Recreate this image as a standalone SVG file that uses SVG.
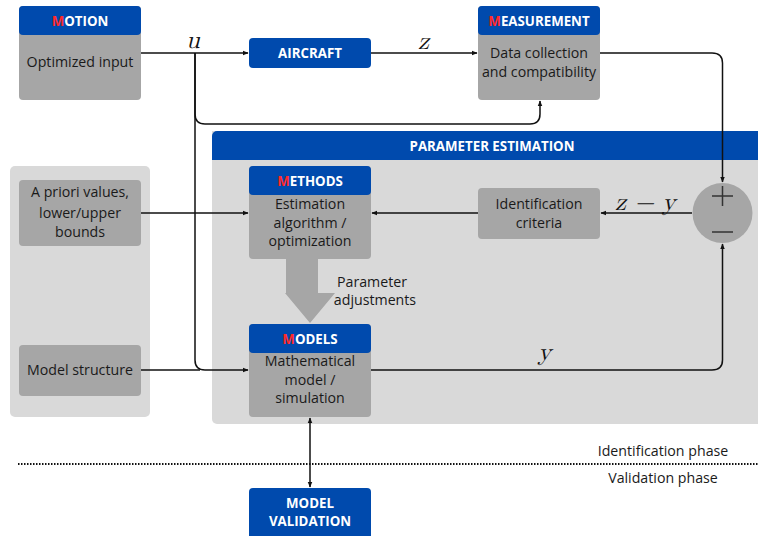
<svg xmlns="http://www.w3.org/2000/svg" width="758" height="536" viewBox="0 0 758 536">
<style>
.hdr{fill:#004aad}
.body{fill:#a6a6a6}
.panel{fill:#d9d9d9}
.ht{font-family:"Open Sans","Liberation Sans",sans-serif;font-weight:700;font-size:13.3px;fill:#fff;text-anchor:middle}
.red{fill:#ff2a2a}
.bt{font-family:"Open Sans","Liberation Sans",sans-serif;font-size:14.2px;fill:#1a1a1a;text-anchor:middle}
.math{font-family:"Latin Modern Math","DejaVu Serif","Liberation Serif",serif;font-style:italic;font-size:25px;fill:#111}
.ln{fill:none;stroke:#111;stroke-width:1.5}
</style>
<defs>
<marker id="ah" viewBox="0 0 10 10" refX="9" refY="5" markerWidth="6" markerHeight="6" orient="auto-start-reverse" markerUnits="userSpaceOnUse">
<path d="M0,1 L10,5 L0,9 z" fill="#111"/>
</marker>
</defs>
<rect width="758" height="536" fill="#fff"/>

<g id="left-panel"><rect class="panel" x="10" y="166" width="140" height="251" rx="5"/></g>
<g id="parameter-estimation">
<path class="panel" d="M212,131 H758 V424 H217 a5,5 0 0 1 -5,-5 Z"/>
<path class="hdr" d="M217,131 H758 V160 H212 V136 a5,5 0 0 1 5,-5 Z"/>
<text class="ht" x="492" y="150.5">PARAMETER ESTIMATION</text>
</g>

<g id="motion">
<rect class="body" x="19" y="6" width="122" height="94" rx="4"/>
<rect class="hdr" x="19" y="6" width="122" height="29" rx="4"/>
<text class="ht" x="80" y="25.5"><tspan class="red">M</tspan>OTION</text>
<text class="bt" x="80" y="67">Optimized input</text>
</g>
<g id="aircraft">
<rect class="hdr" x="249" y="38" width="122" height="30" rx="4"/>
<text class="ht" x="310" y="58">AIRCRAFT</text>
</g>
<g id="measurement">
<rect class="body" x="478" y="6" width="122" height="94" rx="4"/>
<rect class="hdr" x="478" y="6" width="122" height="29" rx="4"/>
<text class="ht" x="539" y="25.5"><tspan class="red">M</tspan>EASUREMENT</text>
<text class="bt" x="539" y="58">Data collection</text>
<text class="bt" x="539" y="77">and compatibility</text>
</g>
<g id="apriori">
<rect class="body" x="19" y="180" width="122" height="66" rx="4"/>
<text class="bt" x="80" y="197">A priori values,</text>
<text class="bt" x="80" y="218">lower/upper</text>
<text class="bt" x="80" y="237">bounds</text>
</g>
<g id="model-structure">
<rect class="body" x="19" y="345" width="122" height="51" rx="4"/>
<text class="bt" x="80" y="375">Model structure</text>
</g>
<g id="methods">
<rect class="body" x="249" y="166" width="122" height="93" rx="4"/>
<rect class="hdr" x="249" y="166" width="122" height="29" rx="4"/>
<text class="ht" x="310" y="185.5"><tspan class="red">M</tspan>ETHODS</text>
<text class="bt" x="310" y="209">Estimation</text>
<text class="bt" x="310" y="228">algorithm /</text>
<text class="bt" x="310" y="246">optimization</text>
</g>
<g id="identification-criteria">
<rect class="body" x="478" y="188" width="122" height="51" rx="4"/>
<text class="bt" x="539" y="209">Identification</text>
<text class="bt" x="539" y="228">criteria</text>
</g>
<g id="sum">
<circle cx="722.5" cy="213" r="30" fill="#a6a6a6"/>
<path d="M712,196 H733 M722.5,186 V206 M712,232 H733" stroke="#333" stroke-width="1.5" fill="none"/>
</g>
<g id="adjust-arrow">
<path d="M286,259 H318 V293 H335 L310,323 L285,293 H286 Z" fill="#a6a6a6"/>
<text class="bt" x="372" y="287">Parameter</text>
<text class="bt" x="375" y="305">adjustments</text>
</g>
<g id="models">
<rect class="body" x="249" y="324" width="122" height="93" rx="4"/>
<rect class="hdr" x="249" y="324" width="122" height="29" rx="4"/>
<text class="ht" x="310" y="343.5"><tspan class="red">M</tspan>ODELS</text>
<text class="bt" x="310" y="366">Mathematical</text>
<text class="bt" x="310" y="385">model /</text>
<text class="bt" x="310" y="403">simulation</text>
</g>
<g id="model-validation">
<rect class="hdr" x="249" y="488" width="122" height="56" rx="4"/>
<text class="ht" x="310" y="507.5">MODEL</text>
<text class="ht" x="310" y="525.5">VALIDATION</text>
</g>

<g id="connectors">
<path class="ln" d="M141,53 H248" marker-end="url(#ah)"/>
<path class="ln" d="M195,53 V114 Q195,124 205,124 H530 Q540,124 540,114 V101" marker-end="url(#ah)"/>
<path class="ln" d="M195,53 V360 Q195,370 205,370 H248" marker-end="url(#ah)"/>
<path class="ln" d="M371,53 H477" marker-end="url(#ah)"/>
<path class="ln" d="M600,53 H712 Q722.5,53 722.5,63 V182" marker-end="url(#ah)"/>
<path class="ln" d="M141,370 H200"/>
<path class="ln" d="M141,213 H248" marker-end="url(#ah)"/>
<path class="ln" d="M478,213 H372" marker-end="url(#ah)"/>
<path class="ln" d="M692,213 H601" marker-end="url(#ah)"/>
<path class="ln" d="M371,370 H712 Q722.5,370 722.5,360 V244" marker-end="url(#ah)"/>
<path class="ln" d="M310,418 V487" marker-start="url(#ah)" marker-end="url(#ah)"/>
<line x1="18" y1="464" x2="758" y2="464" stroke="#111" stroke-width="2" stroke-dasharray="1.5,1.5"/>
<text class="math" x="186" y="48">u</text>
<text class="math" x="418" y="49">z</text>
<text class="math" x="615" y="210">z − y</text>
<text class="math" x="538" y="360">y</text>
<text class="bt" x="663" y="456">Identification phase</text>
<text class="bt" x="663" y="483">Validation phase</text>
</g>
</svg>
